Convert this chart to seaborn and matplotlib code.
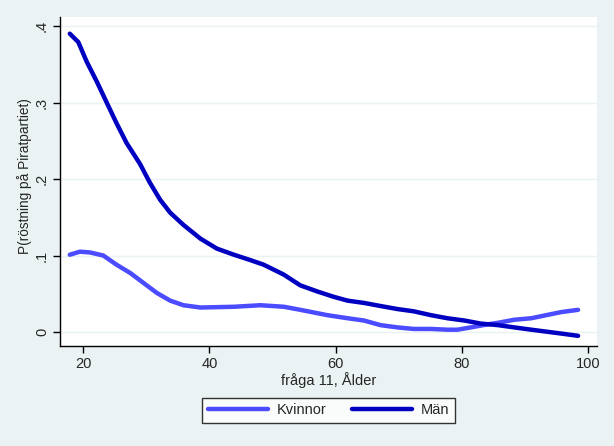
import pandas as pd
import seaborn as sns
import matplotlib.pyplot as plt

# values
ages_k = [17.9, 19.5, 21.1, 23.2, 25.3, 27.5, 29.6, 31.7, 33.8, 35.9, 38.6, 43.9, 48.1,
          51.8, 54.4, 58.7, 61.9, 64.5, 67.1, 69.8, 72.4, 75.1, 77.7, 79.3, 81.4, 84.1,
          85.7, 88.3, 91.0, 95.7, 98.4]
kvinnor = [.101, .105, .104, .100, .088, .077, .064, .051, .041, .035, .032, .033, .035,
           .033, .029, .022, .018, .015, .009, .006, .004, .004, .003, .003, .006, .010,
           .012, .016, .018, .026, .029]

ages_m = [17.9, 19.25, 20.6, 22.2, 23.8, 25.3, 26.9, 29.0, 30.6, 32.2, 33.8, 35.9, 38.6,
          41.2, 43.9, 46.5, 48.6, 51.8, 54.4, 57.1, 59.7, 61.9, 64.5, 67.1, 69.8, 72.4,
          75.1, 77.7, 80.4, 83.0, 85.7, 88.3, 91.0, 95.7, 98.4]
man = [.390, .379, .353, .327, .299, .273, .247, .220, .195, .173, .156, .140, .122,
       .109, .101, .094, .088, .075, .061, .053, .046, .041, .038, .034, .030, .027,
       .022, .018, .015, .011, .009, .006, .003, -.002, -.005]

df = pd.concat([
    pd.DataFrame({"age": ages_k, "p": kvinnor, "kon": "Kvinnor"}),
    pd.DataFrame({"age": ages_m, "p": man, "kon": "Män"}),
])

sns.set_style("white")
plt.rcParams['font.family'] = ['Liberation Sans', 'DejaVu Sans']

fig = plt.figure(figsize=(6.14, 4.46), dpi=100, facecolor="#EAF2F3")
ax = fig.add_axes([60 / 614, 100 / 446, 537 / 614, 329 / 446])
ax.set_facecolor("white")

sns.lineplot(data=df, x="age", y="p", hue="kon", palette=["#4B4BFF", "#0000C0"],
             linewidth=3.2, ax=ax, legend=True)

ax.set_xlim(16.35, 101.4)
ax.set_ylim(-0.0183, 0.4118)
ax.set_xticks([20, 40, 60, 80, 100])
ax.set_yticks([0, 0.1, 0.2, 0.3, 0.4])
ax.set_yticklabels(["0", ".1", ".2", ".3", ".4"], rotation=90, va="center")
ax.yaxis.grid(True, color="#EAF2F3", linewidth=1)
ax.tick_params(axis="both", direction="out", length=5, width=1, color="black",
               labelsize=10.5, pad=3, left=True, bottom=True)
for s in ["top", "right"]:
    ax.spines[s].set_visible(False)
for s in ["left", "bottom"]:
    ax.spines[s].set_color("black")
    ax.spines[s].set_linewidth(1)

ax.set_xlabel("fråga 11, Ålder", fontsize=10.5, labelpad=1)
ax.set_ylabel("P(röstning på Piratpartiet)", fontsize=9.8)
ax.yaxis.set_label_coords(-0.052, 0.518)

ax.get_legend().remove()
h, l = ax.get_legend_handles_labels()
leg = fig.legend(h, l, loc="center", bbox_to_anchor=(328.5 / 614, 0.0796), ncol=2,
                 frameon=True, fancybox=False, edgecolor="black", fontsize=10.5,
                 handlelength=4.1, handletextpad=0.6, columnspacing=1.8,
                 borderpad=0.4, borderaxespad=0)
leg.get_frame().set_linewidth(1)

plt.savefig("out.png", dpi=100, facecolor=fig.get_facecolor())
